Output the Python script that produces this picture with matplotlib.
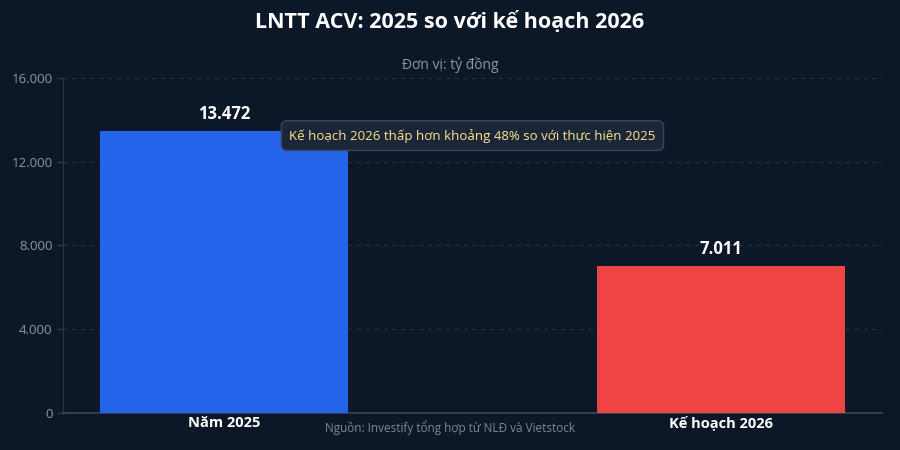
import matplotlib
matplotlib.use("Agg")
import matplotlib.pyplot as plt
from matplotlib.ticker import FuncFormatter

categories = ["Năm 2025", "Kế hoạch 2026"]
values = [13472, 7011]
bar_colors = ["#2563eb", "#ef4444"]
yticks = [0, 4000, 8000, 12000, 16000]

title = "LNTT ACV: 2025 so với kế hoạch 2026"
subtitle = "Đơn vị: tỷ đồng"
note = "Kế hoạch 2026 thấp hơn khoảng 48% so với thực hiện 2025"
source = "Nguồn: Investify tổng hợp từ NLĐ và Vietstock"

bg = "#0c1727"
plt.rcParams["font.family"] = ["Open Sans", "DejaVu Sans"]


def vn(v, _=None):
    return f"{int(v):,}".replace(",", ".")


fig = plt.figure(figsize=(9, 4.5), dpi=100, facecolor=bg)
ax = fig.add_axes([0.07, 0.0822, 0.91, 0.7445], facecolor=bg)

x = range(len(categories))
ax.bar(x, values, width=0.5, color=bar_colors, zorder=3)
for xi, v in zip(x, values):
    ax.text(xi, v + 380, vn(v), ha="center", va="bottom", color="white",
            fontsize=12, fontweight="bold", zorder=4)

ax.set_xlim(-0.324, 1.324)
ax.set_ylim(0, 16000)
ax.set_yticks(yticks)
ax.yaxis.set_major_formatter(FuncFormatter(vn))
ax.set_xticks(list(x))
ax.set_xticklabels(categories, fontsize=10.5, fontweight="bold", color="white")
ax.tick_params(axis="y", colors="#94a3b8", labelsize=9.5, length=4, color="#334155")
ax.tick_params(axis="x", length=0, pad=2)
for lab in ax.get_yticklabels():
    lab.set_color("#8b98ab")
ax.grid(axis="y", color="#253246", linestyle=(0, (4, 4)), linewidth=0.8, zorder=0)
for s in ["top", "right"]:
    ax.spines[s].set_visible(False)
ax.spines["left"].set_color("#2b3648")
ax.spines["bottom"].set_color("#3a4558")
ax.spines["bottom"].set_linewidth(1.2)

ax.text(0.5, 13250, note, ha="center", va="center", color="#fde68a", fontsize=9.5, zorder=5,
        bbox=dict(boxstyle="round,pad=0.6,rounding_size=0.45", fc="#1b2638", ec="#3b4659", lw=1))

fig.text(0.5, 0.951, title, ha="center", va="center", color="white", fontsize=15.5, fontweight="bold")
fig.text(0.5, 0.855, subtitle, ha="center", va="center", color="#8b98ab", fontsize=10)
fig.text(0.5, 0.05, source, ha="center", va="center", color="#7c889b", fontsize=8.5)

fig.savefig("out.png", dpi=100, facecolor=bg)
